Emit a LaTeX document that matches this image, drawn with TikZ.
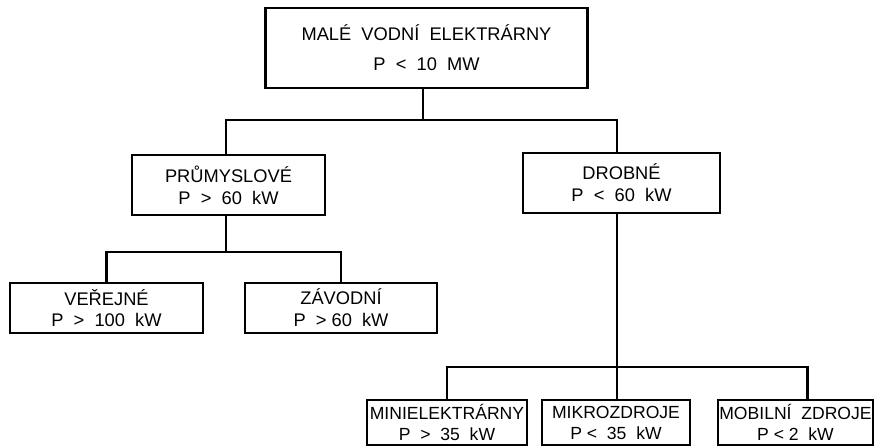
\documentclass[tikz,border=0pt]{standalone}
\usepackage{fontspec}
\setmainfont{Liberation Sans}
\usetikzlibrary{positioning}

\begin{document}
\begin{tikzpicture}[
  x=0.025cm, y=-0.025cm,
  box/.style={draw, line width=1.5pt, align=center, inner sep=1pt,
              font=\fontsize{13}{15.5}\selectfont},
  toplevel/.style={box, minimum width=8.05cm, minimum height=2cm},
  midlevel/.style={box, minimum height=1.5cm},
  lowlevel/.style={box, minimum height=1.25cm},
  leaf/.style={box, minimum height=1.125cm, font=\fontsize{12.5}{15}\selectfont},
  conn/.style={line width=1.5pt},
  ]
  \useasboundingbox (0,0) rectangle (877,447);

  \node[toplevel] (mve) at (426.5,48) {MALÉ \ VODNÍ \ ELEKTRÁRNY\\[6pt]P \ < \ 10 \ MW};

  \node[midlevel, minimum width=4.83cm] (prum) at (228.5,185) {PRŮMYSLOVÉ\\P \ > \ 60 \ kW};
  \node[midlevel, minimum width=4.93cm] (drob) at (621.5,183) {DROBNÉ\\P \ < \ 60 \ kW};

  \node[lowlevel, minimum width=4.83cm] (verej) at (106.5,308) {VEŘEJNÉ\\P \ > \ 100 \ kW};
  \node[lowlevel, minimum width=4.8cm] (zavod) at (341,308) {ZÁVODNÍ\\P \ > 60 \ kW};

  \node[leaf, minimum width=4.0cm] (mini) at (447,422.5) {MINIELEKTRÁRNY\\P \ > \ 35 \ kW};
  \node[leaf, minimum width=3.7cm] (mikro) at (616,422.5) {MIKROZDROJE\\P < \ 35 \ kW};
  \node[leaf, minimum width=3.88cm] (mobil) at (795.5,422.5) {MOBILNÍ \ ZDROJE\\P < 2 \ kW};

  % connectors
  \coordinate (j1) at (423,120);
  \coordinate (j2) at (226,252);
  \coordinate (j3) at (617,367);
  \draw[conn] (mve.south -| j1) -- (j1);
  \draw[conn] (prum.north -| j2) |- (j1) -| (drob.north -| j3);
  \draw[conn] (prum.south -| j2) -- (j2);
  \draw[conn] (verej.north) |- (j2) -| (zavod.north);
  \draw[conn] (drob.south -| j3) -- (j3);
  \draw[conn] (mini.north) |- (j3) -| ([xshift=0.3cm]mobil.north);
  \draw[conn] (j3) -- (mikro.north -| j3);
\end{tikzpicture}
\end{document}
